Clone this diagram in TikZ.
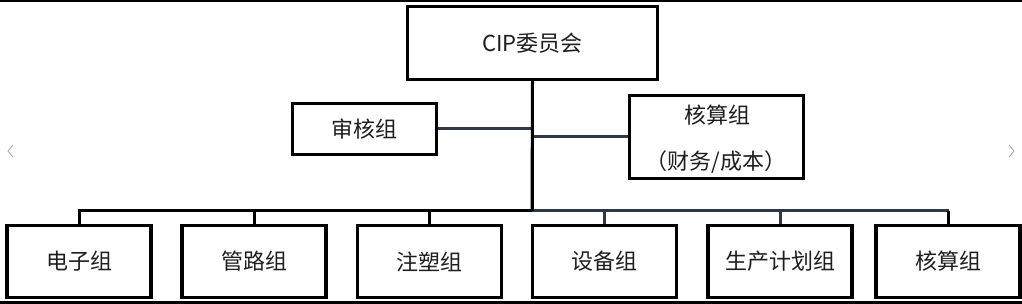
\documentclass[tikz,border=0pt]{standalone}
\usepackage{fontspec}
\newfontfamily\cjk{Noto Sans CJK SC}
\definecolor{slate}{HTML}{2E3849}
\definecolor{txt}{HTML}{1E1E1E}
\begin{document}
\begin{tikzpicture}[x=1pt,y=-1pt,
  lbl/.style={text=txt,font=\cjk\fontsize{22}{26}\selectfont},
  box/.style={lbl,draw=black,line width=3.6pt,fill=white,inner sep=0pt},
  link/.style={line width=3pt,draw=black},
  slink/.style={line width=3pt,draw=slate}]
\useasboundingbox[fill=white] (0,0) rectangle (1022,304);
\fill[black] (0,0) rectangle (1022,2.5);
\fill[black] (0,301) rectangle (1022,304);
% connectors
\coordinate (j) at (532,211);
\draw[link] (532,80) -- (j);
\draw[link] (78,211) -- (j);
\draw[slink] (j) -- (949,211);
% top
\node[box,minimum width=250pt,minimum height=73pt] (cip) at (532.5,43) {CIP委员会};
\node[box,minimum width=144pt,minimum height=51pt] (audit) at (364.5,129) {审核组};
\node[box,minimum width=174pt,minimum height=83pt] (acct) at (716.5,137) {};
\node[lbl] (acctA) at (717,115) {核算组};
\node[lbl] (acctB) at (716,162) {（财务/成本）};
% bottom boxes
\foreach \n/\cx/\t in {b1/79/电子组,b2/254/管路组,b3/429.5/注塑组,b4/604.5/设备组,b5/780/生产计划组,b6/948/核算组}{
  \node[box,minimum width=144pt,minimum height=72pt] (\n) at (\cx,261.5) {\t};
}
\draw[slink] (audit.east) -- (audit.east -| j);
\draw[slink] (acct.west -| j) -- (acct.west);
\draw[link] (cip.south) -- (j);
\draw[link] (b1.north |- j) -- (b1.north);
\draw[link] (b2.north |- j) -- (b2.north);
\draw[link] (b3.north |- j) -- (b3.north);
\draw[slink] (b4.north |- j) -- (b4.north);
\draw[slink] (b5.north |- j) -- (b5.north);
\draw[link] (b6.north |- j) -- (b6.north);
% carousel chevrons
\draw[gray!70,line width=0.8pt] (13,145) -- (8,151) -- (13,157);
\draw[gray!70,line width=0.8pt] (1009,145) -- (1014,151) -- (1009,157);
\end{tikzpicture}
\end{document}
